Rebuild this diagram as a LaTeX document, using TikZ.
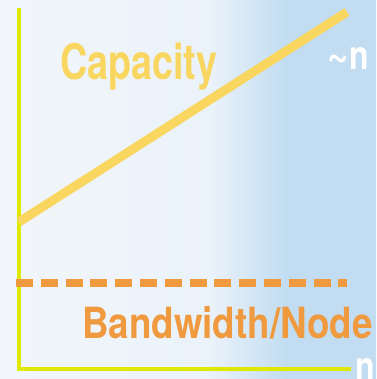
\documentclass[tikz,border=0pt]{standalone}
\usepackage{fontspec}
\setmainfont{TeX Gyre Heros}
\usepackage{tikz}
\definecolor{axisyellow}{HTML}{DFE800}
\definecolor{capyellow}{HTML}{F9D660}
\definecolor{bworange}{HTML}{F09A40}
\definecolor{paleleft}{HTML}{F2F6FA}
\definecolor{palemid}{HTML}{EAF2FA}
\definecolor{skyright}{HTML}{C2DDF1}
\pgfdeclarehorizontalshading{backdrop}{100bp}{
  color(0bp)=(paleleft); color(25bp)=(paleleft);
  color(53bp)=(palemid); color(63bp)=(skyright);
  color(100bp)=(skyright)}
\tikzset{
  axis/.style={draw=axisyellow,line width=4pt},
  growth/.style={draw=capyellow,line width=9pt},
  flat/.style={draw=bworange,line width=8pt,dash pattern=on 17pt off 7.8pt},
  tag/.style={font=\bfseries,inner sep=0pt}
}

\begin{document}
\begin{tikzpicture}[x=1pt,y=-1pt]
\shade[shading=backdrop] (0,0) rectangle (376,379);
\useasboundingbox (0,0) rectangle (376,379);
% axes
\coordinate (ytop)   at (18.5,8);
\coordinate (origin) at (18.5,369);
\coordinate (xend)   at (351,369);
\draw[axis] (ytop) -- (origin) -- (xend);
% the two curves
\coordinate (capstart) at (19,222);
\coordinate (capend)   at (347,12);
\coordinate (bwstart)  at (16,282.5);
\coordinate (bwend)    at (347,282.5);
\draw[growth] (capstart) -- (capend);
\draw[flat]   (bwstart) -- (bwend);
% labels
\node[tag,text=capyellow,anchor=base west] (caplabel) at (60,80)
  {\fontsize{49}{49}\selectfont\scalebox{0.77}[1]{Capacity}};
\node[tag,text=white,anchor=base east] (caporder) at (369,70)
  {\fontsize{40}{40}\selectfont\scalebox{0.8}[1]{{\fontsize{46}{46}\selectfont\textasciitilde}n}};
\node[tag,text=bworange,anchor=base west] (bwlabel) at (82,338.5)
  {\fontsize{43}{43}\selectfont\scalebox{0.855}[1]{Bandwidth/Node}};
\node[tag,text=white,anchor=base west] (xlabel) at (355,380)
  {\fontsize{40}{40}\selectfont\scalebox{0.8}[1]{n}};
\end{tikzpicture}
\end{document}
